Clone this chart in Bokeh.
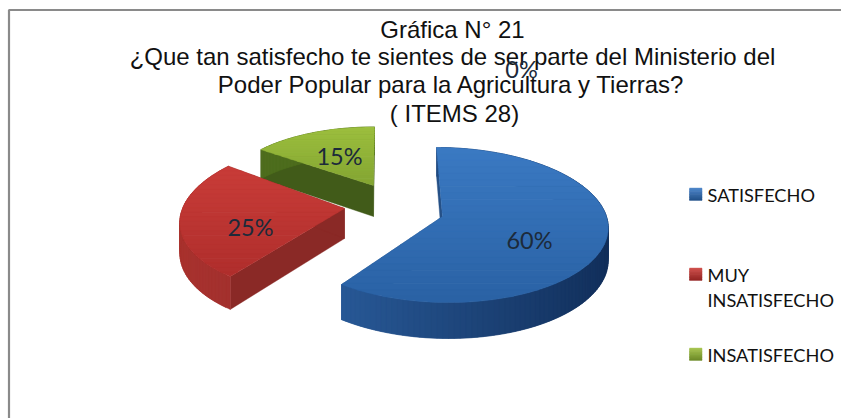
import math
from bokeh.plotting import figure
from bokeh.models import Range1d, ColumnDataSource
from bokeh.core.properties import value
from bokeh.embed import file_html
from bokeh.resources import INLINE

# ---- data
categories = ["SATISFECHO", "MUY INSATISFECHO", "INSATISFECHO", "OTRO"]
values = [60, 25, 15, 0]
pct_labels = ["60%", "25%", "15%", "0%"]
legend_lines = [["SATISFECHO"], ["MUY", "INSATISFECHO"], ["INSATISFECHO"]]
title_lines = ["Gráfica N° 21",
               "¿Que tan satisfecho te sientes de ser parte del Ministerio del",
               "Poder Popular para la Agricultura y Tierras?",
               "( ITEMS 28)"]

# ---- styles / layout (page pixel coordinates)
W, H = 841, 418
FONT_T, FONT_L = "Liberation Sans", "Lato"
top_cols = [("#3a79c2", "#2a62a5"), ("#c83c38", "#b02e2c"), ("#9cbe3e", "#84a632")]
side_cols = [("#2d62a4", "#12305c"), ("#a8322e", "#86272a"), ("#4f6f1e", "#45611a")]
geom = [dict(ax=442, ay=216, rx=164, ry=76.6, sh=6, k=.11, d=32),
        dict(ax=344, ay=208, rx=162, ry=76.6, sh=-12, k=.11, d=30),
        dict(ax=373, ay=185, rx=149, ry=65, sh=-1, k=.11, d=31)]
label_pos = [(529, 239), (250, 226), (339, 155), (521, 68)]
legend_pos = [(689, 194), (689, 274), (689, 354)]

def lerp(c0, c1, t):
    a = [int(c0[i:i+2], 16) for i in (1, 3, 5)]
    b = [int(c1[i:i+2], 16) for i in (1, 3, 5)]
    return "#%02x%02x%02x" % tuple(round(x + (y - x) * t) for x, y in zip(a, b))

def proj(g, r, th):
    u, v = r * math.sin(th), r * math.cos(th)
    s = 1 / (1 - g["k"] * (-v))
    # th measured clockwise from the back of the disc (12 o'clock)
    return (g["ax"] + g["rx"] * u * s + g["sh"] * (-v), g["ay"] - g["ry"] * v * s, s)

def clip(poly, y0, y1):
    def cut(pts, keep, yb):
        out = []
        for i, a in enumerate(pts):
            b = pts[(i + 1) % len(pts)]
            ka, kb = keep(a[1]), keep(b[1])
            if ka:
                out.append(a)
            if ka != kb:
                t = (yb - a[1]) / (b[1] - a[1])
                out.append((a[0] + t * (b[0] - a[0]), yb))
        return out
    p1 = cut(poly, lambda y: y >= y0, y0)
    return cut(p1, lambda y: y <= y1, y1) if p1 else []

xs, ys, cs = [], [], []
def add(pts, c):
    if len(pts) >= 3:
        xs.append([q[0] for q in pts]); ys.append([q[1] for q in pts]); cs.append(c)

def bands(poly, c0, c1, n=24):
    y0 = min(q[1] for q in poly); y1 = max(q[1] for q in poly)
    for i in range(n):
        a = y0 + (y1 - y0) * i / n
        b = y0 + (y1 - y0) * (i + 1) / n
        add(clip(poly, a, b + .6), lerp(c0, c1, i / (n - 1)))

total = sum(values)
starts, acc = [], 0
for val in values:
    starts.append(acc); acc += val

for i in (2, 1, 0):
    g = geom[i]
    th0 = 2 * math.pi * starts[i] / total
    th1 = 2 * math.pi * (starts[i] + values[i]) / total
    n = max(8, int(values[i] * 2))
    arc = [proj(g, 1, th0 + (th1 - th0) * j / n) for j in range(n + 1)]
    apex = (g["ax"], g["ay"], 1.0)
    # straight cut faces
    for e, c in ((arc[0], side_cols[i][0]), (arc[-1], side_cols[i][0])):
        add([(apex[0], apex[1]), (e[0], e[1]),
             (e[0], e[1] + g["d"] * e[2]), (apex[0], apex[1] + g["d"])],
            lerp(c, "#000000", .18))
    # rounded outer face, darker toward the right; strips overlap to hide seams
    for j in range(n):
        a, b = arc[j], arc[min(j + 2, n)]
        t = min(1, max(0, (a[0] - (g["ax"] - g["rx"])) / (2 * g["rx"])))
        add([(a[0], a[1]), (b[0], b[1]),
             (b[0], b[1] + g["d"] * b[2]), (a[0], a[1] + g["d"] * a[2])],
            lerp(*side_cols[i], t))
    bands([(q[0], q[1]) for q in [apex] + arc], *top_cols[i])

# legend swatches
for (lx, ly), cc in zip(legend_pos, top_cols):
    bands([(lx, ly - 6.5), (lx + 12.5, ly - 6.5), (lx + 12.5, ly + 6), (lx, ly + 6)],
          lerp(cc[0], "#ffffff", .1), lerp(cc[1], "#000000", .15), n=8)

p = figure(width=W, height=H, output_backend="svg", toolbar_location=None,
           x_range=Range1d(0, W), y_range=Range1d(H, 0),
           x_axis_type=None, y_axis_type=None, min_border=0,
           outline_line_color=None, background_fill_color="white", border_fill_color="white")
p.grid.visible = False

# frame
p.line([8.5, 8.5, W], [H, 9.5, 9.5], line_color="#8a8a8a", line_width=2.2)

p.patches("xs", "ys", source=ColumnDataSource(dict(xs=xs, ys=ys, c=cs)),
          fill_color="c", line_color="c", line_width=0.4)

# title
title_y = [29, 56, 84, 113]
title_x = [452, 452, 451, 454]
p.text(title_x, title_y, text=title_lines, text_font=value(FONT_T), text_font_size="24px",
       text_color="#111111", text_align="center", text_baseline="middle")

# percentage labels
p.text([q[0] for q in label_pos], [q[1] for q in label_pos], text=pct_labels,
       text_font=value(FONT_L), text_font_size="23.5px", text_color="#1c2a3a",
       text_align="center", text_baseline="middle")

# legend text
lt_x, lt_y, lt_t = [], [], []
for (lx, ly), lines in zip(legend_pos, legend_lines):
    for k, t in enumerate(lines):
        lt_x.append(lx + 18); lt_y.append(ly + k * 25); lt_t.append(t)
p.text(lt_x, lt_y, text=lt_t, text_font=value(FONT_L), text_font_size="18.2px",
       text_color="#111111", text_align="left", text_baseline="middle")

open("out.html", "w").write(file_html(p, INLINE))
